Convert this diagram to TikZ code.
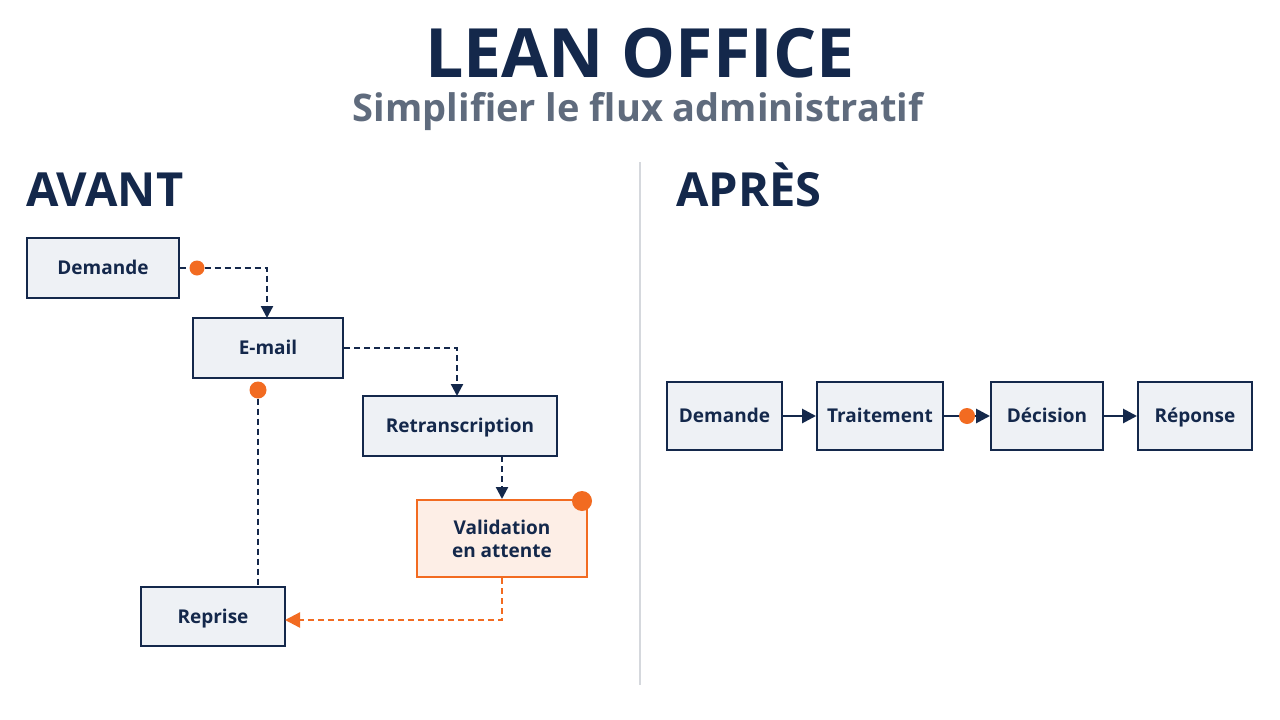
\documentclass[tikz,border=0pt]{standalone}
\usepackage{fontspec}
\setmainfont{Open Sans}
\usetikzlibrary{arrows.meta}
\definecolor{navy}{HTML}{14284B}
\definecolor{greytxt}{HTML}{5F6B7D}
\definecolor{boxfill}{HTML}{EEF1F5}
\definecolor{orng}{HTML}{F26B21}
\definecolor{orngfill}{HTML}{FDEEE6}
\definecolor{divider}{HTML}{D5D8DD}
\tikzset{
  box/.style={draw=navy, line width=2pt, fill=boxfill, text=navy, font=\bfseries\fontsize{19}{22}\selectfont, inner sep=0pt, text height=16pt, text depth=2.4pt},
  obox/.style={draw=orng, line width=2pt, fill=orngfill, text=navy, font=\bfseries\fontsize{19}{23}\selectfont, inner sep=0pt, align=center},
  dashconn/.style={draw=navy, line width=2.3pt, dash pattern=on 6pt off 4pt},
  odashconn/.style={draw=orng, line width=2.3pt, dash pattern=on 6pt off 4pt},
  tip/.style={-{Triangle[length=12pt,width=12pt]}},
  solidconn/.style={draw=navy, line width=2.8pt, -{Triangle[length=14pt,width=14pt]}},
  dot/.style={circle, fill=orng, inner sep=0pt, minimum size=#1},
}
\begin{document}
\begin{tikzpicture}[x=1pt,y=-1pt]
\useasboundingbox[fill=white] (0,0) rectangle (1280,720);
% titles
\node[text=navy, font=\bfseries\fontsize{68}{72}\selectfont, anchor=base] (title) at (640,77) {LEAN OFFICE};
\node[text=greytxt, font=\bfseries\fontsize{38}{42}\selectfont, anchor=base] (sub) at (638,121) {Simplifier le flux administratif};
\node[text=navy, font=\bfseries\fontsize{47}{50}\selectfont, anchor=base west, inner sep=0pt] (avant) at (26,206) {AVANT};
\node[text=navy, font=\bfseries\fontsize{47}{50}\selectfont, anchor=base west, inner sep=0pt] (apres) at (676,206) {APRÈS};
% divider
\coordinate (d1) at (640,162);
\coordinate (d2) at (640,685);
\draw[divider, line width=1.4pt] (d1) -- (d2);
% AVANT boxes
\node[box, minimum width=152pt, minimum height=60pt] (dem) at (103,268) {Demande};
\node[box, minimum width=150pt, minimum height=60pt] (mail) at (268,348) {E-mail};
\node[box, minimum width=194pt, minimum height=60pt] (retr) at (460,426) {Retranscription};
\node[obox, minimum width=170pt, minimum height=77pt] (valid) at (502,538.5) {Validation\\en attente};
\node[box, minimum width=144pt, minimum height=59pt] (rep) at (213,616.5) {Reprise};
% AVANT connectors
\node[dot=15pt] (dd) at (197,268) {};
\draw[dashconn] (dem.east) -- (dd);
\coordinate (mailin) at (267,318);
\draw[dashconn, tip] (dd) -| (mailin);
\coordinate (retrin) at (457,396);
\draw[dashconn, tip] (mail.east) -| (retrin);
\coordinate (retrout) at (502,456);
\draw[dashconn, tip] (retrout) -- (valid.north);
\coordinate (repin) at (285,620);
\draw[odashconn, -{Triangle[length=15pt,width=15pt]}] (valid.south) |- (repin);
\node[dot=17pt] (md) at (258,390) {};
\draw[dashconn] (md) -- (rep.north -| md);
\node[dot=20pt] (vd) at (582,501) {};
% APRES boxes
\node[box, minimum width=115pt, minimum height=68pt] (a1) at (724.5,416) {Demande};
\node[box, minimum width=126pt, minimum height=68pt] (a2) at (880,416) {Traitement};
\node[box, minimum width=112pt, minimum height=68pt] (a3) at (1047,416) {Décision};
\node[box, minimum width=114pt, minimum height=68pt] (a4) at (1195,416) {Réponse};
\draw[solidconn] (a1) -- (a2);
\draw[solidconn] (a2) -- (a3);
\draw[solidconn] (a3) -- (a4);
\node[dot=16pt] (ad) at (967,416) {};
\end{tikzpicture}
\end{document}
